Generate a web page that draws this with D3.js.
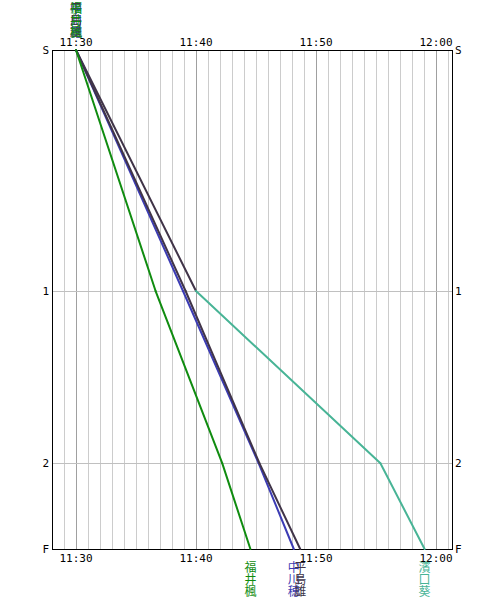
<!DOCTYPE html>
<html>
<head>
<meta charset="utf-8">
<script src="https://cdn.jsdelivr.net/npm/d3@7"></script>
<style>
  body { margin: 0; background: #fff; }
  svg text { font-family: "DejaVu Sans Mono", monospace; }
  svg text.name { font-family: "Noto Sans CJK JP", sans-serif; }
</style>
</head>
<body>
<div id="chart"></div>
<script>
// checkpoints and their distance (estimated, km)
const stations = ["S", "1", "2", "F"];
const stationDist = [0, 4.83, 8.28, 10.0];

// runners, colours and split times at S, 1, 2, F
const runners = ["濱口葵", "中川穂", "平島雄", "福井楓"];
const runnerColors = ["#48b496", "#3c3cb4", "#403448", "#108c10"];
const splitsHamaguchi = ["11:30:00", "11:40:00", "11:55:22", "11:59:03"];
const splitsNakagawa  = ["11:30:00", "11:38:55", "11:45:13", "11:48:09"];
const splitsHirashima = ["11:30:00", "11:39:08", "11:45:17", "11:48:41"];
const splitsFukui     = ["11:30:00", "11:36:38", "11:42:11", "11:44:32"];
const splits = [splitsHamaguchi, splitsNakagawa, splitsHirashima, splitsFukui];
// the first leg of 濱口 is drawn in the dark colour in the original
const legColors = [["#403448", "#48b496", "#48b496"], null, null, null];

const timeStart = "11:28:00", timeEnd = "12:01:20";

const W = 504, H = 600;
const m = {t: 50, r: 52, b: 50, l: 52};

const parse = d3.timeParse("%H:%M:%S");
const fmt = d3.timeFormat("%H:%M");

const svg = d3.select("#chart").append("svg")
    .attr("width", W).attr("height", H);

const x = d3.scaleTime()
    .domain([parse(timeStart), parse(timeEnd)])
    .range([m.l, W - m.r]);
const y = d3.scaleLinear()
    .domain([0, d3.max(stationDist)])
    .range([m.t, H - m.b - 1]);

const px = v => Math.round(v) + 0.5;

// minute grid
const minutes = d3.timeMinute.range(parse("11:29:00"), parse(timeEnd));
svg.append("g").selectAll("line").data(minutes).enter().append("line")
    .attr("x1", d => px(x(d))).attr("x2", d => px(x(d)))
    .attr("y1", y(0)).attr("y2", y(d3.max(stationDist)))
    .attr("stroke", d => d.getMinutes() % 10 === 0 ? "#a0a0a0" : "#cccccc")
    .attr("shape-rendering", "crispEdges");

// checkpoint grid
svg.append("g").selectAll("line").data(stationDist.slice(1, -1)).enter().append("line")
    .attr("x1", m.l).attr("x2", W - m.r)
    .attr("y1", d => px(y(d))).attr("y2", d => px(y(d)))
    .attr("stroke", "#c0c0c0")
    .attr("shape-rendering", "crispEdges");

// frame
svg.append("rect")
    .attr("x", m.l + 0.5).attr("y", m.t + 0.5)
    .attr("width", W - m.r - m.l).attr("height", y(d3.max(stationDist)) - m.t)
    .attr("fill", "none").attr("stroke", "#000")
    .attr("shape-rendering", "crispEdges");

// time labels, top and bottom
const majors = minutes.filter(d => d.getMinutes() % 10 === 0);
svg.append("g").selectAll("text").data(majors).enter().append("text")
    .attr("x", d => x(d)).attr("y", m.t - 4)
    .attr("text-anchor", "middle").attr("font-size", 11)
    .text(fmt);
svg.append("g").selectAll("text").data(majors).enter().append("text")
    .attr("x", d => x(d)).attr("y", y(d3.max(stationDist)) + 13)
    .attr("text-anchor", "middle").attr("font-size", 11)
    .text(fmt);

// checkpoint labels, left and right
stations.forEach((s, i) => {
    svg.append("text").attr("x", m.l - 3).attr("y", y(stationDist[i]) + 4)
        .attr("text-anchor", "end").attr("font-size", 11).text(s);
    svg.append("text").attr("x", W - m.r + 3).attr("y", y(stationDist[i]) + 4)
        .attr("font-size", 11).text(s);
});

// runner lines, leg by leg
runners.forEach((r, i) => {
    const s = splits[i];
    d3.pairs(d3.range(s.length)).forEach(([a, b], k) => {
        svg.append("line")
            .attr("x1", x(parse(s[a]))).attr("y1", y(stationDist[a]))
            .attr("x2", x(parse(s[b]))).attr("y2", y(stationDist[b]))
            .attr("stroke", legColors[i] ? legColors[i][k] : runnerColors[i])
            .attr("stroke-width", 2)
            .attr("stroke-linecap", "round");
    });
});

// names, written vertically at start and at finish
function vName(name, cx, base, color) {
    name.split("").forEach((c, k) => {
        svg.append("text").attr("class", "name")
            .attr("x", cx).attr("y", base + k * 12)
            .attr("text-anchor", "middle").attr("font-size", 12)
            .attr("fill", color).text(c);
    });
}
runners.forEach((r, i) => {
    const s = splits[i];
    vName(r, x(parse(s[0])), 13, runnerColors[i]);
    vName(r, x(parse(s[s.length - 1])), y(d3.max(stationDist)) + 23, runnerColors[i]);
});
</script>
</body>
</html>
